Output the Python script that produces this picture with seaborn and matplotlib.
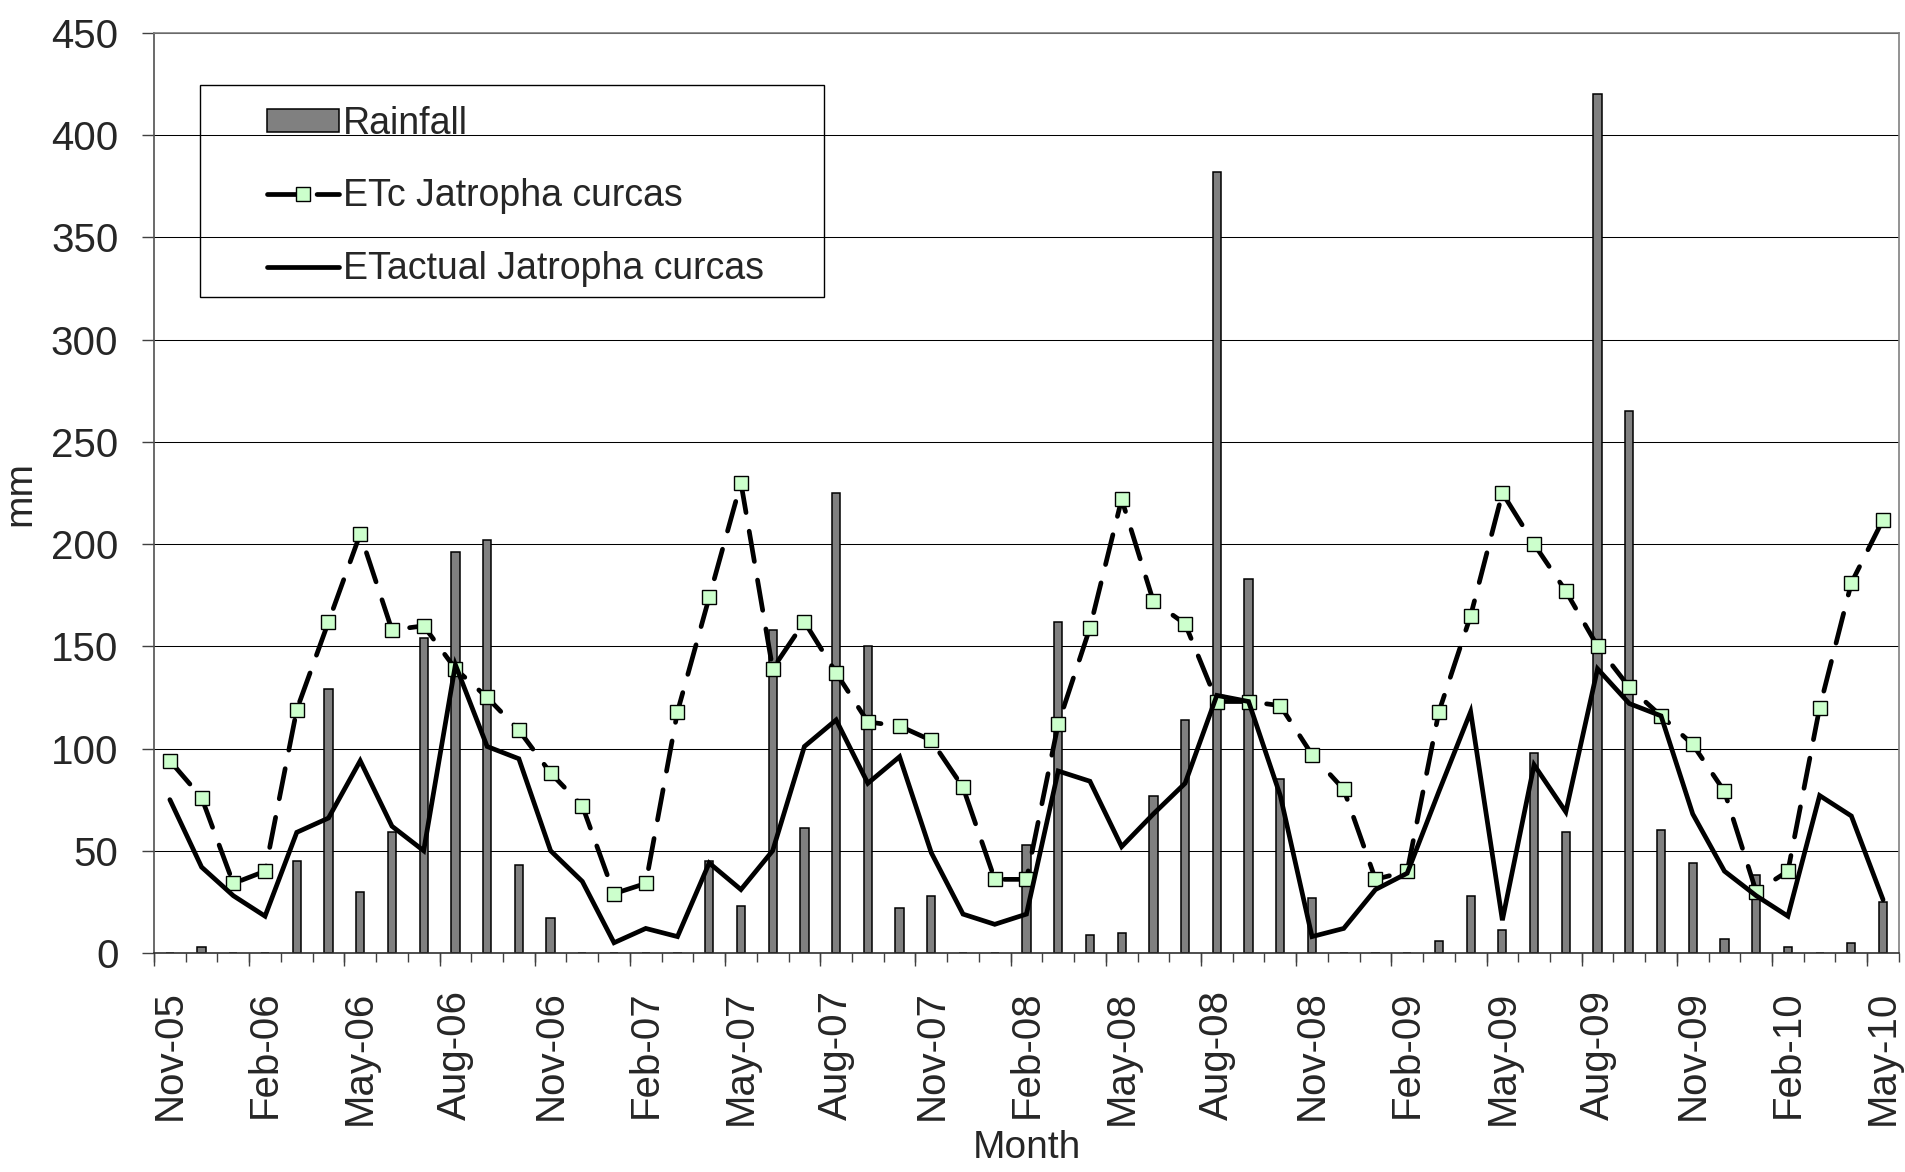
import numpy as np
import pandas as pd
import matplotlib
matplotlib.use('Agg')
from matplotlib import pyplot as plt
from matplotlib.patches import Rectangle
import seaborn as sns

# monthly series, Nov-05 .. May-10
months = pd.date_range('2005-11-01', periods=55, freq='MS').strftime('%b-%y').tolist()

rainfall = [0, 3, 0, 0, 45, 129, 30, 59, 154, 196, 202, 43, 17, 0, 0,
            0, 0, 45, 23, 158, 61, 225, 150, 22, 28, 0, 0, 53, 162, 9,
            10, 77, 114, 382, 183, 85, 27, 0, 0, 0, 6, 28, 11, 98, 59,
            420, 265, 60, 44, 7, 38, 3, 0, 5, 25]

etc_jatropha = [94, 76, 34, 40, 119, 162, 205, 158, 160, 139, 125, 109, 88, 72, 29,
                34, 118, 174, 230, 139, 162, 137, 113, 111, 104, 81, 36, 36, 112, 159,
                222, 172, 161, 123, 123, 121, 97, 80, 36, 40, 118, 165, 225, 200, 177,
                150, 130, 116, 102, 79, 30, 40, 120, 181, 212]

eta_jatropha = [75, 42, 28, 18, 59, 66, 94, 62, 50, 141, 101, 95, 50, 35, 5,
                12, 8, 44, 31, 50, 101, 114, 83, 96, 49, 19, 14, 19, 89, 84,
                52, 68, 83, 126, 123, 77, 8, 12, 31, 39, 79, 118, 16, 92, 69,
                139, 122, 116, 68, 40, 28, 18, 77, 67, 26]

tick_labels = ['Nov-05', 'Feb-06', 'May-06', 'Aug-06', 'Nov-06', 'Feb-07', 'May-07',
               'Aug-07', 'Nov-07', 'Feb-08', 'May-08', 'Aug-08', 'Nov-08', 'Feb-09',
               'May-09', 'Aug-09', 'Nov-09', 'Feb-10', 'May-10']

df = pd.DataFrame({'month': months, 'pos': np.arange(len(months)),
                   'rain': rainfall, 'etc': etc_jatropha, 'eta': eta_jatropha})

sns.set_style('white')
plt.rcParams['font.family'] = ['Liberation Sans', 'DejaVu Sans']

fig = plt.figure(figsize=(19.06, 11.72), dpi=100)
ax = fig.add_axes([0.0808, 0.1869, 0.9155, 0.7849])

sns.barplot(data=df, x='pos', y='rain', native_scale=True, width=0.26, color='#808080',
            saturation=1, edgecolor='black', linewidth=1.1, errorbar=None,
            label='Rainfall', ax=ax, zorder=2)
sns.lineplot(data=df, x='pos', y='etc', ax=ax, color='black', lw=3.4,
             linestyle=(0, (6.5, 4)), dash_capstyle='round', marker='s', markersize=9.8,
             markerfacecolor='#CCFFCC', markeredgecolor='black', markeredgewidth=1.0,
             label='ETc Jatropha curcas', zorder=3)
sns.lineplot(data=df, x='pos', y='eta', ax=ax, color='black', lw=3.4,
             solid_joinstyle='miter', label='ETactual Jatropha curcas', zorder=4)

ax.set_xlim(-0.5, 54.5)
ax.set_ylim(0, 450)
ax.set_yticks(np.arange(0, 451, 50))
ax.yaxis.grid(True, color='black', lw=0.75)
ax.set_axisbelow(True)

# labels sit on category centres, ticks on boundaries
ax.set_xticks(np.arange(0, 55, 3))
ax.set_xticklabels(tick_labels, rotation=90)
ax.set_xticks(np.arange(-0.5, 55, 1), minor=True)
ax.tick_params(axis='x', which='major', length=0, pad=27, labelsize=29)
ax.tick_params(axis='x', which='minor', bottom=True, length=6.5, width=1, color='#404040')
ax.tick_params(axis='y', left=True, length=8.6, width=1, color='#404040', pad=17, labelsize=29)

sec = ax.secondary_xaxis('bottom')
sec.set_xticks(np.arange(-0.5, 55, 3))
sec.tick_params(length=9.4, width=1, color='#404040', labelbottom=False)
sec.spines['bottom'].set_visible(False)

for side, col in [('top', '#808080'), ('right', '#808080'), ('left', '#505050'), ('bottom', '#303030')]:
    ax.spines[side].set_color(col)
    ax.spines[side].set_linewidth(1.2)

ax.set_xlabel('Month', fontsize=28, labelpad=4)
ax.set_ylabel('mm', fontsize=28, labelpad=9)

hd = dict(zip(*ax.get_legend_handles_labels()[::-1]))
order = ['Rainfall', 'ETc Jatropha curcas', 'ETactual Jatropha curcas']
leg = ax.legend([hd[k] for k in order], order, loc='upper left', bbox_to_anchor=(0.0648, 0.921),
                frameon=False, borderpad=0, borderaxespad=0, labelspacing=0.98,
                handlelength=1.92, handletextpad=0.1, handleheight=0.55,
                prop={'size': 27})
leg.set_zorder(6)
ax.add_patch(Rectangle((0.0264, 0.713), 0.3576, 0.2305, transform=ax.transAxes,
                       facecolor='none', edgecolor='black', lw=1, zorder=6))

fig.savefig('out.png', dpi=100)
